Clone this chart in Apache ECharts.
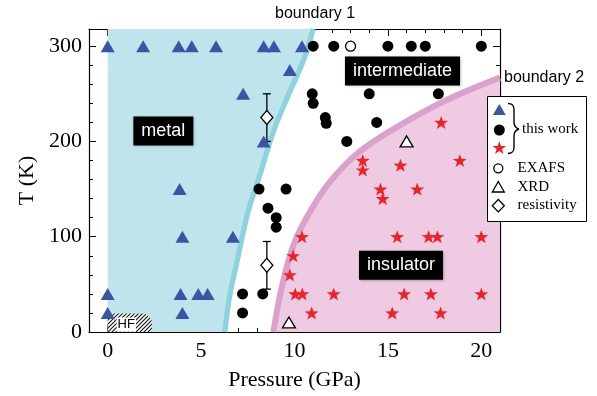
<!DOCTYPE html>
<html>
<head>
<meta charset="utf-8">
<script src="https://cdn.jsdelivr.net/npm/echarts@6/dist/echarts.min.js"></script>
<style>
  html, body { margin: 0; padding: 0; background: #ffffff; }
  #chart { width: 597px; height: 396px; }
</style>
</head>
<body>
<div id="chart"></div>
<script>
// Pressure–temperature phase diagram: metal / intermediate / insulator regions.

// ---- data: [pressure (GPa), temperature (K)] ----
const metalPoints = [
  [0, 300], [1.9, 300], [3.8, 300], [4.5, 300], [5.8, 300], [8.35, 300], [8.9, 300], [10.4, 300],
  [9.75, 275], [7.25, 250], [8.35, 200], [3.85, 150], [4.0, 100], [6.7, 100],
  [0, 40], [3.9, 40], [4.85, 40], [5.35, 40], [0, 20], [4.0, 20]
];
const intermediatePoints = [
  [11.0, 300], [12.1, 300], [15.0, 300], [16.25, 300], [17.0, 300], [20.0, 300],
  [10.95, 250], [11.0, 240], [14.0, 250], [17.7, 250],
  [11.65, 225], [11.7, 219], [14.4, 220], [12.8, 200],
  [8.1, 150], [9.55, 150], [8.58, 130], [9.02, 120], [9.02, 110],
  [7.22, 40], [8.3, 40], [7.22, 20]
];
const insulatorPoints = [
  [17.85, 220], [13.65, 180], [13.65, 170], [15.67, 175], [18.85, 180],
  [14.6, 150], [14.72, 140], [16.57, 150],
  [10.4, 100], [15.5, 100], [17.18, 100], [17.65, 100], [20.0, 100],
  [9.93, 80], [9.75, 60],
  [10.04, 40], [10.42, 40], [12.1, 40], [15.87, 40], [17.3, 40], [20.0, 40],
  [10.92, 20], [15.23, 20], [17.82, 20]
];
const exafsPoints = [[13.0, 300]];
const xrdPoints = [[16.0, 200], [9.7, 10]];
const resistivityPressure = [8.52, 8.52];
const resistivityTemperature = [225, 70];
const resistivityError = [25, 25];

// phase boundaries
const boundary1 = [
  [6.27, 0], [6.52, 37], [6.9, 72], [7.5, 125], [8.07, 160],
  [8.9, 212], [9.7, 250], [10.5, 286], [11.0, 318]
];
const boundary2 = [
  [8.87, 0], [9.24, 40], [9.68, 75], [10.2, 103], [11.1, 135],
  [12.0, 160], [13.4, 188], [15.56, 216], [18.2, 244], [21, 267]
];

// hatched "HF" window at ambient pressure, low temperature
const hfPressure = [0, 2.37];
const hfTemperature = [0, 19.4];

// region names and where they sit
const regionNames = ['metal', 'intermediate', 'insulator'];
const regionAnchors = [[2.98, 211], [15.78, 274], [15.7, 70]];

// axes
const xRange = [-1, 21];
const yRange = [0, 318];
const xMajorTicks = [0, 5, 10, 15, 20];
const yMajorTicks = [0, 100, 200, 300];
const xMinorTicks = [];
for (let v = 1; v <= 20; v++) if (v % 5 !== 0) xMinorTicks.push(v);
const yMinorTicks = [];
for (let v = 20; v <= 300; v += 20) if (v % 100 !== 0) yMinorTicks.push(v);

// ---- styling ----
const SERIF = "'Liberation Serif', 'Times New Roman', serif";
const SANS = "'Liberation Sans', Arial, Helvetica, sans-serif";
const BLUE = '#3a55a5';
const RED = '#ee2229';
const METAL_FILL = '#bfe4ec';
const METAL_LINE = '#8bd4df';
const INSUL_FILL = '#efcbe3';
const INSUL_LINE = '#d9a1cb';
const STAR = 'path://M0,-10 L2.35,-3.24 L9.51,-3.09 L3.8,1.24 L5.88,8.09 L0,4 L-5.88,8.09 L-3.8,1.24 L-9.51,-3.09 L-2.35,-3.24 Z';

// diagonal hatch pattern
const hatch = document.createElement('canvas');
hatch.width = 4; hatch.height = 4;
(function () {
  const c = hatch.getContext('2d');
  c.fillStyle = '#ffffff';
  c.fillRect(0, 0, 4, 4);
  c.strokeStyle = '#1a1a1a';
  c.lineWidth = 1.2;
  c.beginPath();
  c.moveTo(-1, 5); c.lineTo(5, -1);
  c.moveTo(-1, 1); c.lineTo(1, -1);
  c.moveTo(3, 5); c.lineTo(5, 3);
  c.stroke();
})();

function axisX(position, ticks, len, withLine, withLabels) {
  return {
    type: 'value', position: position, min: xRange[0], max: xRange[1],
    axisLine: { show: withLine, onZero: false, lineStyle: { color: '#000', width: 1.2 } },
    axisTick: { show: true, inside: true, length: len, customValues: ticks, lineStyle: { color: '#000', width: 1 } },
    axisLabel: withLabels ? {
      show: true, customValues: ticks, margin: 8,
      fontFamily: SERIF, fontSize: 22, color: '#000'
    } : { show: false },
    splitLine: { show: false }
  };
}
function axisY(position, ticks, len, withLine, withLabels) {
  return {
    type: 'value', position: position, min: yRange[0], max: yRange[1],
    axisLine: { show: withLine, onZero: false, lineStyle: { color: '#000', width: 1.2 } },
    axisTick: { show: true, inside: true, length: len, customValues: ticks, lineStyle: { color: '#000', width: 1 } },
    axisLabel: withLabels ? {
      show: true, customValues: ticks, margin: 7,
      fontFamily: SERIF, fontSize: 22, color: '#000'
    } : { show: false },
    splitLine: { show: false }
  };
}

const xAxes = [
  axisX('bottom', xMajorTicks, 7, true, true),
  axisX('bottom', xMinorTicks, 4, false, false),
  axisX('top', xMajorTicks, 7, true, false),
  axisX('top', xMinorTicks, 4, false, false)
];
Object.assign(xAxes[0], {
  name: 'Pressure (GPa)', nameLocation: 'middle', nameGap: 37,
  nameTextStyle: { fontFamily: SERIF, fontSize: 22, color: '#000' }
});
const yAxes = [
  axisY('left', yMajorTicks, 7, true, true),
  axisY('left', yMinorTicks, 4, false, false),
  axisY('right', yMajorTicks, 7, true, false),
  axisY('right', yMinorTicks, 4, false, false)
];
Object.assign(yAxes[0], {
  name: 'T (K)', nameLocation: 'middle', nameGap: 50, nameRotate: 90,
  nameTextStyle: { fontFamily: SERIF, fontSize: 22, color: '#000' }
});

// star outline scaled for the key
function starPoints(cx, cy, s) {
  const pts = [[0,-10],[2.35,-3.24],[9.51,-3.09],[3.8,1.24],[5.88,8.09],[0,4],[-5.88,8.09],[-3.8,1.24],[-9.51,-3.09],[-2.35,-3.24]];
  return pts.map(p => [cx + p[0] * s, cy + (p[1] + 1) * s]);
}

const keyText = { fontFamily: SERIF, fontSize: 15, fill: '#000', verticalAlign: 'middle' };
const braceStyle = { fill: null, stroke: '#000', lineWidth: 1.4 };
const KZ = 20;

const option = {
  backgroundColor: '#ffffff',
  animation: false,
  grid: { left: 89, right: 97, top: 29, bottom: 64, containLabel: false },
  xAxis: xAxes,
  yAxis: yAxes,
  series: [
    // metal region + boundary 1
    {
      type: 'line', data: boundary1, smooth: 0.35, symbol: 'none', z: 1,
      lineStyle: { color: METAL_LINE, width: 5 },
      areaStyle: { color: METAL_FILL, opacity: 1, origin: 'end' },
      markArea: {
        silent: true, itemStyle: { color: METAL_FILL, opacity: 1 },
        data: [[{ coord: [0, yRange[0]] }, { coord: [boundary1[0][0] + 0.04, yRange[1]] }]]
      }
    },
    // insulator region + boundary 2
    {
      type: 'line', data: boundary2, smooth: 0.35, symbol: 'none', z: 1,
      lineStyle: { color: INSUL_LINE, width: 6 },
      areaStyle: { color: INSUL_FILL, opacity: 1, origin: 'start' }
    },
    // boundary-1 stroke above the fills
    {
      type: 'line', data: boundary1, smooth: 0.35, symbol: 'none', z: 2,
      lineStyle: { color: METAL_LINE, width: 5 }
    },
    // hatched HF window
    {
      type: 'custom', z: 3, data: [0],
      renderItem: function (params, api) {
        const tl = api.coord([hfPressure[0], hfTemperature[1]]);
        const br = api.coord([hfPressure[1], hfTemperature[0]]);
        const label = api.coord([(hfPressure[0] + hfPressure[1]) * 0.42, hfTemperature[1] * 0.4]);
        return {
          type: 'group',
          children: [
            {
              type: 'rect',
              shape: { x: tl[0], y: tl[1], width: br[0] - tl[0], height: br[1] - tl[1], r: [0, 10, 0, 0] },
              style: { fill: { image: hatch, repeat: 'repeat' }, stroke: null }
            },
            {
              type: 'text',
              style: {
                text: 'HF', x: label[0], y: label[1], align: 'center', verticalAlign: 'middle',
                fontFamily: SANS, fontSize: 13, fill: '#000',
                backgroundColor: '#ffffff', padding: [1, 1, 0, 1]
              }
            }
          ]
        };
      }
    },
    // resistivity error bars
    {
      type: 'custom', z: 4,
      data: resistivityPressure.map((p, i) => [p, resistivityTemperature[i] - resistivityError[i], resistivityTemperature[i] + resistivityError[i]]),
      renderItem: function (params, api) {
        const lo = api.coord([api.value(0), api.value(1)]);
        const hi = api.coord([api.value(0), api.value(2)]);
        const st = { stroke: '#000', lineWidth: 1.3 };
        return {
          type: 'group',
          children: [
            { type: 'line', shape: { x1: lo[0], y1: lo[1], x2: hi[0], y2: hi[1] }, style: st },
            { type: 'line', shape: { x1: hi[0] - 4, y1: hi[1], x2: hi[0] + 4, y2: hi[1] }, style: st },
            { type: 'line', shape: { x1: lo[0] - 4, y1: lo[1], x2: lo[0] + 4, y2: lo[1] }, style: st }
          ]
        };
      }
    },
    {
      name: 'resistivity', type: 'scatter', z: 5,
      data: resistivityPressure.map((p, i) => [p, resistivityTemperature[i]]),
      symbol: 'diamond', symbolSize: [12, 14],
      itemStyle: { color: '#ffffff', borderColor: '#000', borderWidth: 1.3, opacity: 1 }
    },
    {
      name: 'metal', type: 'scatter', z: 6, data: metalPoints,
      symbol: 'triangle', symbolSize: [14, 12], itemStyle: { color: BLUE, opacity: 1 }
    },
    {
      name: 'intermediate', type: 'scatter', z: 6, data: intermediatePoints,
      symbol: 'circle', symbolSize: 11, itemStyle: { color: '#000', opacity: 1 }
    },
    {
      name: 'insulator', type: 'scatter', z: 6, data: insulatorPoints,
      symbol: STAR, symbolSize: [14, 13], itemStyle: { color: RED, opacity: 1 }
    },
    {
      name: 'EXAFS', type: 'scatter', z: 6, data: exafsPoints,
      symbol: 'circle', symbolSize: 10,
      itemStyle: { color: '#ffffff', borderColor: '#000', borderWidth: 1.3, opacity: 1 }
    },
    {
      name: 'XRD', type: 'scatter', z: 6, data: xrdPoints,
      symbol: 'triangle', symbolSize: [13, 11],
      itemStyle: { color: '#ffffff', borderColor: '#000', borderWidth: 1.3, opacity: 1 }
    },
    // region names
    {
      type: 'scatter', z: 8, symbolSize: 0, silent: true,
      itemStyle: { opacity: 1 },
      data: regionAnchors.map((a, i) => ({ value: a, name: regionNames[i] })),
      label: {
        show: true, position: 'inside', formatter: '{b}',
        fontFamily: SANS, fontSize: 18, color: '#ffffff', opacity: 1,
        backgroundColor: '#000000', padding: [6, 8, 5, 8],
        shadowColor: 'rgba(0,0,0,0.35)', shadowBlur: 3, shadowOffsetX: 1, shadowOffsetY: 1
      }
    }
  ],
  graphic: [
    { type: 'text', z: KZ, x: 275, y: 6, style: { text: 'boundary 1', fontFamily: SANS, fontSize: 16, fill: '#000' } },
    { type: 'text', z: KZ, x: 504, y: 70, style: { text: 'boundary 2', fontFamily: SANS, fontSize: 16, fill: '#000' } },
    // key
    { type: 'rect', z: KZ, shape: { x: 487.5, y: 96.5, width: 99, height: 125 }, style: { fill: '#ffffff', stroke: '#000', lineWidth: 1 } },
    { type: 'polygon', z: KZ + 1, shape: { points: [[492.8, 115], [499.3, 104], [505.8, 115]] }, style: { fill: BLUE } },
    { type: 'circle', z: KZ + 1, shape: { cx: 499.3, cy: 130, r: 5.5 }, style: { fill: '#000' } },
    { type: 'polygon', z: KZ + 1, shape: { points: starPoints(499.3, 147.5, 0.72) }, style: { fill: RED } },
    { type: 'bezierCurve', z: KZ + 1, shape: { x1: 508, y1: 103.5, cpx1: 513, cpy1: 103.5, cpx2: 514, cpy2: 106, x2: 514, y2: 110 }, style: braceStyle },
    { type: 'line', z: KZ + 1, shape: { x1: 514, y1: 110, x2: 514, y2: 122 }, style: braceStyle },
    { type: 'bezierCurve', z: KZ + 1, shape: { x1: 514, y1: 122, cpx1: 514, cpy1: 126.5, cpx2: 515.5, cpy2: 128, x2: 519, y2: 129 }, style: braceStyle },
    { type: 'bezierCurve', z: KZ + 1, shape: { x1: 519, y1: 129, cpx1: 515.5, cpy1: 130, cpx2: 514, cpy2: 131.5, x2: 514, y2: 136 }, style: braceStyle },
    { type: 'line', z: KZ + 1, shape: { x1: 514, y1: 136, x2: 514, y2: 147 }, style: braceStyle },
    { type: 'bezierCurve', z: KZ + 1, shape: { x1: 514, y1: 147, cpx1: 514, cpy1: 151, cpx2: 513, cpy2: 153.5, x2: 508, y2: 153.5 }, style: braceStyle },
    { type: 'text', z: KZ + 1, x: 522, y: 129.5, style: Object.assign({ text: 'this work' }, keyText) },
    { type: 'circle', z: KZ + 1, shape: { cx: 498.3, cy: 168.3, r: 4.5 }, style: { fill: '#fff', stroke: '#000', lineWidth: 1.3 } },
    { type: 'text', z: KZ + 1, x: 517.5, y: 168.5, style: Object.assign({ text: 'EXAFS' }, keyText) },
    { type: 'polygon', z: KZ + 1, shape: { points: [[492.3, 192], [498.3, 181.5], [504.3, 192]] }, style: { fill: '#fff', stroke: '#000', lineWidth: 1.3 } },
    { type: 'text', z: KZ + 1, x: 517.5, y: 187, style: Object.assign({ text: 'XRD' }, keyText) },
    { type: 'polygon', z: KZ + 1, shape: { points: [[498.3, 199.5], [504.3, 205.7], [498.3, 211.9], [492.3, 205.7]] }, style: { fill: '#fff', stroke: '#000', lineWidth: 1.3 } },
    { type: 'text', z: KZ + 1, x: 517.5, y: 205.5, style: Object.assign({ text: 'resistivity' }, keyText) }
  ]
};

const chart = echarts.init(document.getElementById('chart'), null, { renderer: 'canvas' });
chart.setOption(option);
</script>
</body>
</html>
